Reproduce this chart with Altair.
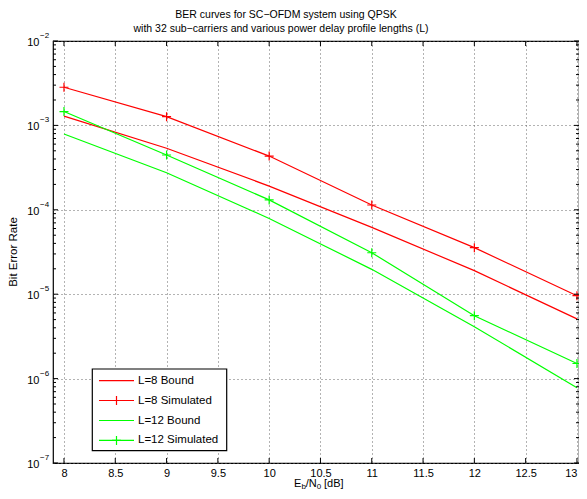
import altair as alt
import pandas as pd

# ---------------- data ----------------
eb_db = [8, 9, 10, 11, 12, 13]
l8_bound = [1.29e-3, 5.36e-4, 1.91e-4, 6.2e-5, 1.90e-5, 5.1e-6]
l8_sim = [2.83e-3, 1.27e-3, 4.33e-4, 1.14e-4, 3.56e-5, 9.6e-6]
l12_bound = [7.9e-4, 2.75e-4, 7.9e-5, 1.97e-5, 4.12e-6, 7.8e-7]
l12_sim = [1.46e-3, 4.46e-4, 1.31e-4, 3.1e-5, 5.56e-6, 1.51e-6]

series_names = ["L=8 Bound", "L=8 Simulated", "L=12 Bound", "L=12 Simulated"]
series_values = [l8_bound, l8_sim, l12_bound, l12_sim]
series_colors = ["#ff0000", "#ff0000", "#00ff00", "#00ff00"]
series_marker = [False, True, False, True]

x_ticks = [8, 8.5, 9, 9.5, 10, 10.5, 11, 11.5, 12, 12.5, 13]
y_decades = [1e-7, 1e-6, 1e-5, 1e-4, 1e-3, 1e-2]
y_exponents = ["\u22127", "\u22126", "\u22125", "\u22124", "\u22123", "\u22122"]
y_minor = [m * d for d in [1e-7, 1e-6, 1e-5, 1e-4, 1e-3] for m in range(2, 10)]

title_lines = ["BER curves for SC\u2212OFDM system using QPSK",
               "with 32 sub\u2212carriers and various power delay profile lengths (L)"]
y_title = "Bit Error Rate"

FONT = "Liberation Sans"
W, H = 526, 422
X_DOMAIN = [7.893, 13.02]
Y_DOMAIN = [1e-7, 1e-2]

rows = []
for name, vals in zip(series_names, series_values):
    for x, v in zip(eb_db, vals):
        rows.append({"eb": x, "ber": v, "series": name})
df = pd.DataFrame(rows)
sim_df = df[df["series"].isin([n for n, m in zip(series_names, series_marker) if m])]

xscale = alt.Scale(domain=X_DOMAIN, nice=False, zero=False)
yscale = alt.Scale(type="log", domain=Y_DOMAIN, nice=False)
cscale = alt.Scale(domain=series_names, range=series_colors)

PLUS = "M-1,0L1,0M0,-1L0,1"

xaxis = alt.Axis(values=x_ticks, format=".1~f", title=None, domain=False, ticks=False,
                 labelFont=FONT, labelFontSize=11, labelColor="black", labelPadding=4,
                 grid=True, gridDash=[1, 3], gridColor="#666666", gridOpacity=1,
                 labelFlush=3, labelOverlap=False)
yaxis = alt.Axis(values=y_decades, title=None, domain=False, ticks=False, labels=False,
                 grid=True, gridDash=[1, 3], gridColor="#666666", gridOpacity=1)


def X(field):
    return alt.X(field, scale=xscale, axis=xaxis)


def Y(field):
    return alt.Y(field, scale=yscale, axis=yaxis)


lines = alt.Chart(df).mark_line(strokeWidth=1.2).encode(
    x=X("eb:Q"), y=Y("ber:Q"),
    color=alt.Color("series:N", scale=cscale, legend=None),
    detail="series:N",
)

points = alt.Chart(sim_df).mark_point(shape=PLUS, size=81, filled=False, strokeWidth=1.2, opacity=1).encode(
    x=X("eb:Q"), y=Y("ber:Q"),
    color=alt.Color("series:N", scale=cscale, legend=None),
)

dec_df = pd.DataFrame({"val": y_decades, "exp": y_exponents})
minor_df = pd.DataFrame({"val": y_minor})
xt_df = pd.DataFrame({"val": x_ticks})

ylab_base = alt.Chart(dec_df).mark_text(align="right", baseline="middle", font=FONT, fontSize=11,
                                        color="black", dy=2).encode(
    y=Y("val:Q"), x=alt.value(-13.5), text=alt.value("10"))
ylab_exp = alt.Chart(dec_df).mark_text(align="left", baseline="middle", font=FONT, fontSize=8,
                                       color="black", dy=-5).encode(
    y=Y("val:Q"), x=alt.value(-13), text="exp:N")

tick_style = dict(color="black", strokeWidth=1)
ytick_l = alt.Chart(dec_df).mark_rule(**tick_style).encode(
    y=Y("val:Q"), x=alt.value(0), x2=alt.value(5))
ytick_r = alt.Chart(dec_df).mark_rule(**tick_style).encode(
    y=Y("val:Q"), x=alt.value(W - 5), x2=alt.value(W))
ymin_l = alt.Chart(minor_df).mark_rule(**tick_style).encode(
    y=Y("val:Q"), x=alt.value(0), x2=alt.value(3))
ymin_r = alt.Chart(minor_df).mark_rule(**tick_style).encode(
    y=Y("val:Q"), x=alt.value(W - 3), x2=alt.value(W))
xtick_b = alt.Chart(xt_df).mark_rule(**tick_style).encode(
    x=X("val:Q"), y=alt.value(H - 5), y2=alt.value(H))
xtick_t = alt.Chart(xt_df).mark_rule(**tick_style).encode(
    x=X("val:Q"), y=alt.value(0), y2=alt.value(5))

one = pd.DataFrame({"k": [0]})


def txt(s, x, y, size=11, align="left", baseline="alphabetic", angle=0):
    return alt.Chart(one).mark_text(align=align, baseline=baseline, font=FONT, fontSize=size,
                                    color="black", angle=angle).encode(
        x=alt.value(x), y=alt.value(y), text=alt.value(s))


titles = [
    txt(title_lines[0], 233, -26, size=10.5, align="center", baseline="middle"),
    txt(title_lines[1], 228, -12, size=10.5, align="center", baseline="middle"),
    txt(y_title, -39, 211, size=11.5, align="center", baseline="middle", angle=270),
    # x title: E_b/N_0 [dB]
    txt("E", 241, 446, size=11),
    txt("b", 248.5, 448, size=8),
    txt("/N", 252.7, 446, size=11),
    txt("0", 263.8, 448, size=8),
    txt("[dB]", 271, 446, size=11),
]

# legend box
LX0, LX1, LY0, LY1 = 39.3, 173.7, 328, 409.7
legend_layers = [
    alt.Chart(one).mark_rect(fill="white", stroke="black", strokeWidth=1.2).encode(
        x=alt.value(LX0), x2=alt.value(LX1), y=alt.value(LY0), y2=alt.value(LY1))
]
row_y = [339.7, 359.5, 379.5, 399.4]
for name, col, mk, ry in zip(series_names, series_colors, series_marker, row_y):
    legend_layers.append(alt.Chart(one).mark_rule(color=col, strokeWidth=1.2).encode(
        x=alt.value(46), x2=alt.value(81), y=alt.value(ry)))
    if mk:
        legend_layers.append(alt.Chart(one).mark_point(shape=PLUS, size=81, filled=False,
                                                       strokeWidth=1.2, color=col, opacity=1).encode(
            x=alt.value(63.5), y=alt.value(ry)))
    legend_layers.append(txt(name, 85, ry, size=11.5, baseline="middle"))

chart = alt.layer(
    lines, points, ytick_l, ytick_r, ymin_l, ymin_r, xtick_b, xtick_t,
    ylab_base, ylab_exp, *titles, *legend_layers
).properties(
    width=W, height=H,
    autosize=alt.AutoSizeParams(type="none"),
    padding={"left": 45, "top": 33, "right": 0, "bottom": 28},
    background="white",
).configure_view(stroke="black", strokeWidth=1.2)

chart.save("out.html", embed_options={"renderer": "svg", "actions": False})
